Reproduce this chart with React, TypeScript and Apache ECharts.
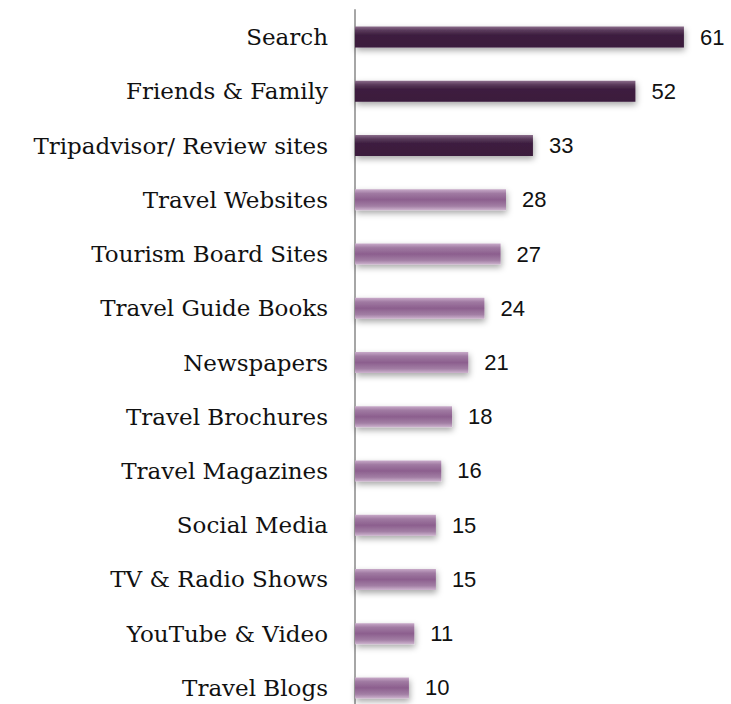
import React, { useEffect, useRef } from "react";
import * as echarts from "echarts";

const categories = [
  "Search",
  "Friends & Family",
  "Tripadvisor/ Review sites",
  "Travel Websites",
  "Tourism Board Sites",
  "Travel Guide Books",
  "Newspapers",
  "Travel Brochures",
  "Travel Magazines",
  "Social Media",
  "TV & Radio Shows",
  "YouTube & Video",
  "Travel Blogs",
];
const values = [61, 52, 33, 28, 27, 24, 21, 18, 16, 15, 15, 11, 10];
const darkCount = 3;

const darkGrad = () =>
  new echarts.graphic.LinearGradient(0, 0, 0, 1, [
    { offset: 0, color: "#8a6c8a" },
    { offset: 0.18, color: "#5a3a5b" },
    { offset: 0.4, color: "#3d1f3f" },
    { offset: 1, color: "#3b1c3d" },
  ]);
const lightGrad = () =>
  new echarts.graphic.LinearGradient(0, 0, 0, 1, [
    { offset: 0, color: "#c8aac9" },
    { offset: 0.2, color: "#a07aa2" },
    { offset: 0.5, color: "#8c5f8e" },
    { offset: 0.8, color: "#a27ea4" },
    { offset: 1, color: "#cdb3ce" },
  ]);

export default function App() {
  const ref = useRef<HTMLDivElement>(null);
  useEffect(() => {
    if (!ref.current) return;
    const chart = echarts.init(ref.current, undefined, { renderer: "svg" });
    chart.setOption({
      animation: false,
      backgroundColor: "#ffffff",
      grid: { left: 355, top: 10, width: 350.5, height: 705, containLabel: false },
      xAxis: {
        type: "value",
        min: 0,
        max: 65,
        show: false,
      },
      yAxis: {
        type: "category",
        data: categories,
        inverse: true,
        axisLine: { show: true, lineStyle: { color: "#a6a6a6", width: 2 } },
        axisTick: { show: false },
        axisLabel: {
          margin: 27,
          fontFamily: "DejaVu Serif",
          fontSize: 23,
          color: "#111111",
        },
      },
      series: [
        {
          type: "bar",
          data: values.map((v, i) => ({
            value: v,
            itemStyle: {
              color: i < darkCount ? darkGrad() : lightGrad(),
              shadowColor: "rgba(0,0,0,0.35)",
              shadowBlur: 6,
              shadowOffsetY: 3,
              shadowOffsetX: 1,
            },
          })),
          barWidth: 21,
          label: {
            show: true,
            position: "right",
            distance: 16,
            fontFamily: "Liberation Sans",
            fontSize: 22,
            color: "#111111",
          },
        },
      ],
    });
    return () => chart.dispose();
  }, []);
  return (
    <div
      ref={ref}
      style={{ position: "absolute", left: 0, top: 0, width: 731, height: 720 }}
    />
  );
}
